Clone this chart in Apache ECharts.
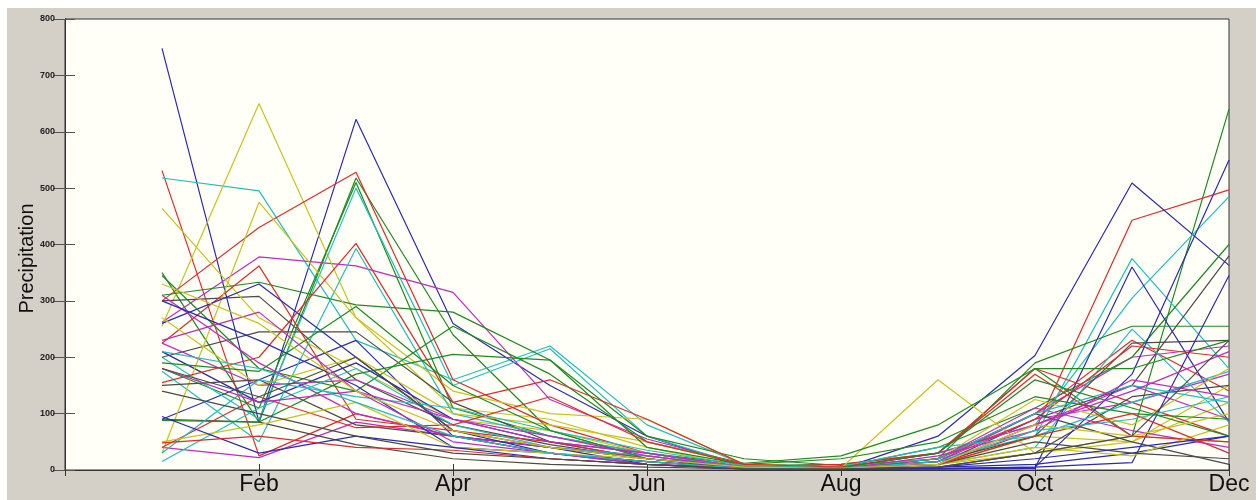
<!DOCTYPE html>
<html>
<head>
<meta charset="utf-8">
<script src="https://cdn.jsdelivr.net/npm/echarts@6/dist/echarts.min.js"></script>
<style>
    html, body { margin: 0; padding: 0; background: #fff; }
    #chart { width: 1260px; height: 500px; }
</style>
</head>
<body>
<div id="chart"></div>
<script>
// Month tick labels (x = 0..12, labels on even months)
var monthLabels = ['', 'Jan', 'Feb', 'Mar', 'Apr', 'May', 'Jun', 'Jul', 'Aug', 'Sep', 'Oct', 'Nov', 'Dec'];
var months = [1, 2, 3, 4, 5, 6, 7, 8, 9, 10, 11, 12];

// MATLAB style colour cycle
var lineColors = ['#2a2ab4', '#1f8a1f', '#e02a2a', '#22bdbd', '#c02ac0', '#c8c21e', '#4a4a4a'];

// Monthly precipitation, one array per station (Jan..Dec)
var st01 = [748, 85, 622, 260, 150, 60, 5, 3, 5, 10, 30, 60];
var st02 = [350, 85, 518, 240, 70, 20, 8, 10, 30, 180, 60, 640];
var st03 = [531, 25, 100, 60, 40, 20, 5, 4, 10, 70, 443, 497];
var st04 = [518, 495, 230, 160, 220, 80, 10, 5, 20, 60, 375, 180];
var st05 = [262, 378, 362, 315, 125, 55, 10, 5, 15, 100, 200, 220];
var st06 = [255, 650, 270, 110, 90, 40, 5, 3, 10, 30, 60, 50];
var st07 = [300, 308, 160, 80, 45, 20, 5, 3, 10, 90, 150, 380];
var st08 = [90, 160, 230, 60, 40, 10, 3, 2, 60, 203, 509, 363];
var st09 = [180, 110, 510, 110, 60, 30, 10, 5, 40, 110, 200, 400];
var st10 = [300, 430, 528, 160, 80, 30, 5, 3, 20, 100, 230, 140];
var st11 = [200, 90, 500, 150, 215, 60, 8, 5, 30, 80, 305, 485];
var st12 = [40, 22, 85, 60, 40, 25, 5, 5, 15, 90, 120, 170];
var st13 = [464, 270, 180, 90, 70, 30, 5, 3, 8, 60, 50, 120];
var st14 = [200, 245, 245, 120, 50, 30, 5, 3, 15, 60, 225, 230];
var st15 = [210, 120, 190, 90, 50, 20, 2, 1, 2, 3, 360, 85];
var st16 = [310, 333, 293, 280, 195, 60, 20, 8, 20, 190, 255, 255];
var st17 = [225, 362, 90, 70, 50, 20, 5, 10, 30, 180, 120, 60];
var st18 = [175, 50, 393, 100, 60, 30, 5, 3, 10, 40, 250, 85];
var st19 = [225, 150, 160, 90, 50, 30, 5, 4, 30, 80, 150, 90];
var st20 = [30, 475, 270, 140, 100, 90, 10, 3, 160, 30, 50, 150];
var st21 = [90, 85, 45, 20, 10, 5, 2, 2, 5, 30, 130, 150];
var st22 = [260, 330, 200, 70, 30, 15, 4, 3, 3, 5, 170, 550];
var st23 = [345, 180, 140, 255, 170, 50, 12, 25, 80, 180, 180, 230];
var st24 = [155, 200, 402, 120, 160, 90, 10, 5, 20, 90, 220, 200];
var st25 = [15, 110, 180, 80, 40, 25, 5, 6, 40, 60, 120, 175];
var st26 = [310, 190, 100, 60, 30, 15, 3, 3, 20, 110, 70, 40];
var st27 = [270, 150, 200, 100, 80, 50, 10, 5, 20, 125, 80, 180];
var st28 = [150, 160, 80, 60, 30, 15, 3, 3, 20, 100, 50, 10];
var st29 = [300, 230, 150, 40, 30, 10, 3, 2, 2, 5, 13, 345];
var st30 = [88, 85, 170, 205, 195, 40, 10, 20, 50, 130, 100, 90];
var st31 = [40, 130, 75, 80, 130, 50, 10, 5, 30, 170, 60, 50];
var st32 = [30, 160, 130, 110, 70, 35, 8, 4, 20, 100, 150, 120];
var st33 = [180, 120, 140, 50, 30, 10, 2, 2, 25, 70, 160, 130];
var st34 = [50, 80, 120, 40, 30, 20, 5, 4, 10, 40, 25, 80];
var st35 = [180, 130, 200, 70, 40, 20, 4, 3, 10, 50, 30, 20];
var st36 = [95, 30, 60, 40, 20, 10, 2, 2, 5, 20, 40, 60];
var st37 = [190, 175, 290, 150, 70, 20, 5, 4, 30, 160, 110, 60];
var st38 = [48, 60, 40, 35, 20, 10, 3, 3, 10, 60, 100, 30];
var st39 = [210, 180, 120, 60, 30, 15, 3, 3, 15, 70, 90, 130];
var st40 = [230, 280, 140, 90, 60, 25, 4, 3, 10, 80, 140, 210];
var st41 = [330, 260, 140, 70, 40, 20, 5, 3, 10, 80, 60, 100];
var st42 = [140, 100, 60, 30, 20, 10, 2, 2, 5, 30, 60, 230];

var stations = [st01, st02, st03, st04, st05, st06, st07, st08, st09, st10,
    st11, st12, st13, st14, st15, st16, st17, st18, st19, st20,
    st21, st22, st23, st24, st25, st26, st27, st28, st29, st30,
    st31, st32, st33, st34, st35, st36, st37, st38, st39, st40,
    st41, st42];

var chart = echarts.init(document.getElementById('chart'));

// Build one line series per station
var seriesList = stations.map(function (vals, i) {
    return {
        type: 'line',
        xAxisIndex: 0,
        yAxisIndex: 0,
        symbol: 'none',
        lineStyle: {
            width: 1.2,
            color: lineColors[i % lineColors.length]
        },
        data: vals.map(function (v, j) { return [months[j], v]; })
    };
});

chart.setOption({
    animation: false,
    backgroundColor: '#ffffff',

    // Grey window panel behind the plot
    graphic: [{
        type: 'rect',
        z: -100,
        silent: true,
        shape: { x: 7, y: 8, width: 1249, height: 500 },
        style: { fill: '#d4d0c8' }
    }],

    grid: {
        left: 65,
        right: 31,
        top: 19,
        bottom: 30,
        show: true,
        backgroundColor: '#fffff8',
        borderColor: '#333',
        borderWidth: 1
    },

    xAxis: [{
        type: 'value',
        min: 0,
        max: 12,
        interval: 2,
        axisLine: { lineStyle: { color: '#333' } },
        axisTick: { inside: true, length: 6, lineStyle: { color: '#333' } },
        splitLine: { show: false },
        axisLabel: {
            color: '#111',
            fontFamily: 'Liberation Sans, Arial, sans-serif',
            fontSize: 23,
            margin: 3,
            formatter: function (v) { return monthLabels[v] || ''; }
        }
    }, {
        type: 'value',
        position: 'top',
        min: 0,
        max: 12,
        interval: 2,
        axisLine: { lineStyle: { color: '#333' } },
        axisTick: { inside: true, length: 6, lineStyle: { color: '#333' } },
        axisLabel: { show: false },
        splitLine: { show: false }
    }],

    yAxis: [{
        type: 'value',
        min: 0,
        max: 800,
        interval: 100,
        name: 'Precipitation',
        nameLocation: 'middle',
        nameGap: 28,
        nameMoveOverlap: false,
        nameTextStyle: {
            color: '#111',
            fontFamily: 'Liberation Sans, Arial, sans-serif',
            fontSize: 20,
            padding: [0, 0, 0, -28]
        },
        axisLine: { show: true, lineStyle: { color: '#333' } },
        axisTick: { inside: true, length: 10, lineStyle: { color: '#555' } },
        splitLine: { show: false },
        axisLabel: {
            color: '#222',
            fontFamily: 'Liberation Sans, Arial, sans-serif',
            fontWeight: 'bold',
            fontSize: 9,
            margin: 10
        }
    }, {
        type: 'value',
        position: 'right',
        min: 0,
        max: 800,
        interval: 100,
        axisLine: { show: true, lineStyle: { color: '#333' } },
        axisTick: { inside: true, length: 12, lineStyle: { color: '#555' } },
        axisLabel: { show: false },
        splitLine: { show: false }
    }],

    series: seriesList
});
</script>
</body>
</html>
